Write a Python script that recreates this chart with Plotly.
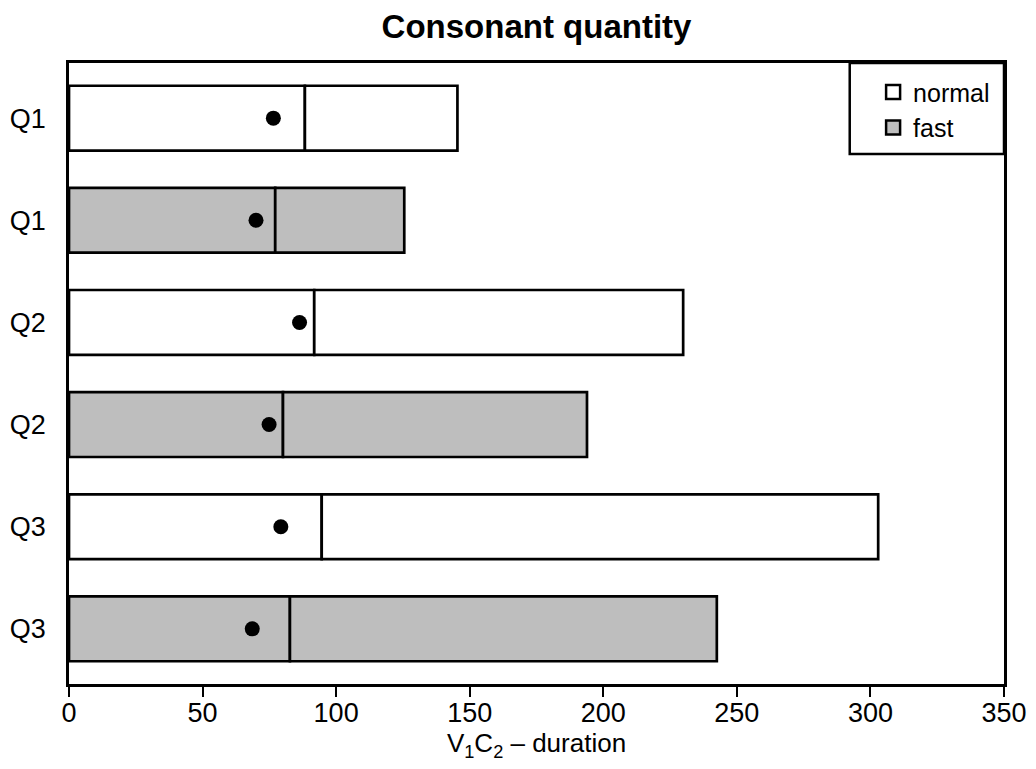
import plotly.graph_objects as go

# ---- data ----
labels = ["Q1", "Q1", "Q2", "Q2", "Q3", "Q3"]
speed = ["normal", "fast", "normal", "fast", "normal", "fast"]
first_part = [88.3, 77.2, 91.8, 80.1, 94.6, 82.7]
total = [145.4, 125.5, 229.9, 193.9, 302.9, 242.5]
dots = [76.5, 70.0, 86.3, 74.9, 79.3, 68.6]
x_ticks = [0, 50, 100, 150, 200, 250, 300, 350]
legend_names = ["normal", "fast"]

fills = {"normal": "#FFFFFF", "fast": "#BEBEBE"}
FONT = "Liberation Sans, Arial, sans-serif"
pos = list(range(len(labels)))

fig = go.Figure()
for s in legend_names:
    idx = [i for i in pos if speed[i] == s]
    fig.add_trace(go.Bar(
        orientation="h",
        y=[pos[i] for i in idx],
        x=[first_part[i] for i in idx],
        base=[0 for i in idx],
        width=0.635,
        marker=dict(color=fills[s], line=dict(color="black", width=2.7)),
        name=s, showlegend=False, hoverinfo="skip",
    ))
    fig.add_trace(go.Bar(
        orientation="h",
        y=[pos[i] for i in idx],
        x=[total[i] - first_part[i] for i in idx],
        base=[first_part[i] for i in idx],
        width=0.635,
        marker=dict(color=fills[s], line=dict(color="black", width=2.7)),
        name=s, showlegend=False, hoverinfo="skip",
    ))

fig.add_trace(go.Scatter(
    x=dots, y=pos, mode="markers",
    marker=dict(color="black", size=15, line=dict(width=0)),
    showlegend=False, hoverinfo="skip",
))

# legend entries (square keys)
for s in legend_names:
    fig.add_trace(go.Scatter(
        x=[None], y=[None], mode="markers", name=s,
        marker=dict(symbol="square", size=14, color=fills[s],
                    line=dict(color="black", width=2.5)),
        showlegend=True,
    ))

# legend frame
fig.add_shape(type="rect", xref="paper", yref="paper",
              x0=0.835, x1=1.0, y0=0.8535, y1=1.0,
              line=dict(color="black", width=2.5), fillcolor="white", layer="below")

fig.update_layout(
    width=1036, height=769,
    margin=dict(l=69, r=32, t=63, b=85, autoexpand=False),
    paper_bgcolor="white", plot_bgcolor="white",
    barmode="overlay",
    font=dict(family=FONT, size=27, color="black"),
    title=dict(text="<b>Consonant quantity</b>", x=0.5, xref="paper", xanchor="center",
               y=0.965, yanchor="middle", font=dict(size=33, family=FONT)),
    xaxis=dict(range=[0, 350], tickvals=x_ticks, ticks="outside", ticklen=10,
               tickwidth=2, tickcolor="black", showline=True, linecolor="black",
               linewidth=2.5, mirror=True, showgrid=False, zeroline=False,
               ticklabelstandoff=-7, automargin=False,
               title=dict(text="V<sub>1</sub>C<sub>2</sub> – duration", standoff=6,
                          font=dict(size=26))),
    yaxis=dict(range=[5.54, -0.54], tickvals=pos, ticktext=labels, ticks="",
               showline=True, linecolor="black", linewidth=2.5, mirror=True,
               showgrid=False, zeroline=False, ticklabelstandoff=15, automargin=False),
    legend=dict(x=0.86, xanchor="left", y=0.99, yanchor="top",
                bgcolor="rgba(0,0,0,0)", borderwidth=0,
                font=dict(size=25), itemwidth=30, tracegroupgap=0),
)

fig.write_html("out.html", config={"displayModeBar": False},
               post_script="document.body.style.margin='0';")
